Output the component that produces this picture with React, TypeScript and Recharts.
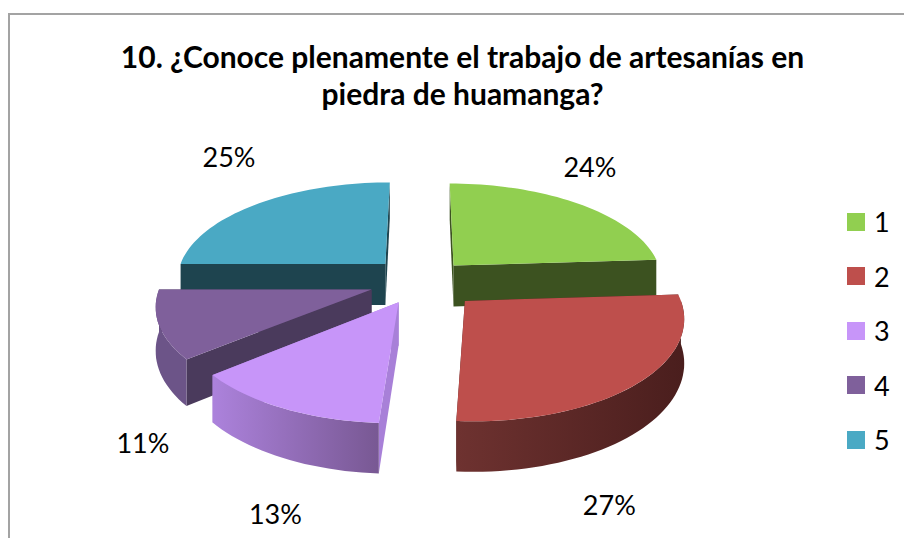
import { Legend, Pie, PieChart } from "recharts";

const TITLE_LINES = [
  "10. ¿Conoce plenamente el trabajo de artesanías en",
  "piedra de huamanga?",
];
const CATEGORIES = ["1", "2", "3", "4", "5"];
const VALUES = [24, 27, 13, 11, 25];
// painter's order, back slices first, so the front ones overlap correctly
const DRAW_ORDER = ["1", "5", "4", "3", "2"];

const FONT = "Lato, 'Open Sans', sans-serif";

// fake Excel 3D perspective
const DEPTH = 42;
const TILT = 0.464;
const CAMERA = 1500;

const SLICE_STYLE: Record<
  string,
  { top: string; cut: string; wallFrom: string; wallTo: string; explode: number; label: [number, number] }
> = {
  "1": { top: "#91CF50", cut: "#3C5220", wallFrom: "#3C5220", wallTo: "#3C5220", explode: 47, label: [11.5, -37.5] },
  "2": { top: "#BE4F4C", cut: "#4C1F1E", wallFrom: "#6E3230", wallTo: "#4A1E1D", explode: 59, label: [-30.5, 122] },
  "3": { top: "#C795F9", cut: "#A880D8", wallFrom: "#AC82DC", wallTo: "#785893", explode: 50, label: [-7, 105] },
  "4": { top: "#7F609B", cut: "#4A3A5C", wallFrom: "#6C5488", wallTo: "#6C5488", explode: 53, label: [-16, 117.5] },
  "5": { top: "#4AA9C4", cut: "#1E444F", wallFrom: "#3B8A9E", wallTo: "#3B8A9E", explode: 53, label: [-27.5, -48] },
};

const rad = (deg: number) => (deg * Math.PI) / 180;

function project(cx: number, cy: number, explode: number, mid: number, r: number, angle: number) {
  const u = explode * Math.cos(rad(mid)) + r * Math.cos(rad(angle));
  const v = explode * Math.sin(rad(mid)) + r * Math.sin(rad(angle));
  const sc = CAMERA / (CAMERA + v);
  return { x: cx + u * sc, y: cy - v * TILT * sc, drop: DEPTH * sc };
}

function arcPoints(cx: number, cy: number, explode: number, mid: number, r: number, from: number, to: number) {
  const steps = Math.max(2, Math.ceil((to - from) / 2));
  const pts = [];
  for (let i = 0; i <= steps; i++) {
    pts.push(project(cx, cy, explode, mid, r, from + ((to - from) * i) / steps));
  }
  return pts;
}

const toPath = (pts: { x: number; y: number }[]) =>
  pts.map((p, i) => `${i ? "L" : "M"}${p.x.toFixed(1)} ${p.y.toFixed(1)}`).join(" ") + " Z";

const lowered = (pts: { x: number; y: number; drop: number }[]) =>
  pts.map((p) => ({ x: p.x, y: p.y + p.drop, drop: p.drop }));

function Slice3D(props: any) {
  const { cx, cy, outerRadius, startAngle, endAngle, midAngle, name } = props;
  const s = SLICE_STYLE[name];
  const apex = project(cx, cy, s.explode, midAngle, 0, 0);
  const rim = arcPoints(cx, cy, s.explode, midAngle, outerRadius, startAngle, endAngle);
  const cutFace = (p: { x: number; y: number; drop: number }) =>
    toPath([apex, p, ...lowered([p, apex])]);

  // the outer wall only shows on the half that faces the viewer
  const wallFrom = Math.max(startAngle, 180);
  const wallTo = Math.min(endAngle, 360);
  const wall =
    wallTo > wallFrom ? arcPoints(cx, cy, s.explode, midAngle, outerRadius, wallFrom, wallTo) : null;
  const gradId = `wall-${name}`;

  return (
    <g>
      <defs>
        <linearGradient id={gradId} x1="0" x2="1" y1="0" y2="0">
          <stop offset="0%" stopColor={s.wallFrom} />
          <stop offset="100%" stopColor={s.wallTo} />
        </linearGradient>
      </defs>
      <path d={cutFace(rim[0])} fill={s.cut} />
      <path d={cutFace(rim[rim.length - 1])} fill={s.cut} />
      {wall && <path d={toPath([...wall, ...lowered(wall).reverse()])} fill={`url(#${gradId})`} />}
      <path d={toPath([apex, ...rim])} fill={s.top} />
    </g>
  );
}

function renderLabel(props: any) {
  const { cx, cy, outerRadius, midAngle, name, value } = props;
  const s = SLICE_STYLE[name];
  const p = project(cx, cy, s.explode, midAngle, outerRadius, midAngle);
  return (
    <text
      x={p.x + s.label[0]}
      y={p.y + s.label[1]}
      textAnchor="middle"
      dominantBaseline="central"
      fontFamily={FONT}
      fontSize={27}
      fill="#000"
    >
      {`${value}%`}
    </text>
  );
}

function LegendList() {
  return (
    <div style={{ fontFamily: FONT, fontSize: 27, color: "#000" }}>
      {CATEGORIES.map((c) => (
        <div key={c} style={{ display: "flex", alignItems: "center", height: 54.5 }}>
          <span style={{ width: 18, height: 18, background: SLICE_STYLE[c].top, marginRight: 9 }} />
          <span>{c}</span>
        </div>
      ))}
    </div>
  );
}

export default function App() {
  const pieData = DRAW_ORDER.map((name) => ({
    name,
    value: VALUES[CATEGORIES.indexOf(name)],
    fill: SLICE_STYLE[name].top,
  }));

  return (
    <div
      style={{
        position: "absolute",
        left: 0,
        top: 0,
        width: 904,
        height: 538,
        overflow: "hidden",
        background: "#fff",
      }}
    >
      <div
        style={{
          position: "absolute",
          left: 8,
          top: 13,
          width: 940,
          height: 560,
          border: "2px solid #A3A3A3",
        }}
      />
      <div
        style={{
          position: "absolute",
          left: 0,
          top: 38,
          width: 925,
          textAlign: "center",
          fontFamily: FONT,
          fontWeight: 700,
          fontSize: 30,
          lineHeight: "37px",
          color: "#000",
        }}
      >
        {TITLE_LINES.map((t) => (
          <div key={t}>{t}</div>
        ))}
      </div>
      <PieChart width={904} height={538} style={{ position: "absolute", left: 0, top: 0 }}>
        <Pie
          data={pieData}
          dataKey="value"
          nameKey="name"
          cx={417}
          cy={276}
          outerRadius={210}
          startAngle={3.6}
          endAngle={363.6}
          stroke="none"
          shape={Slice3D}
          label={renderLabel}
          labelLine={false}
          isAnimationActive={false}
        />
        <Legend
          content={<LegendList />}
          wrapperStyle={{ left: 847, top: 194.5, width: 57, bottom: "auto" }}
        />
      </PieChart>
    </div>
  );
}
